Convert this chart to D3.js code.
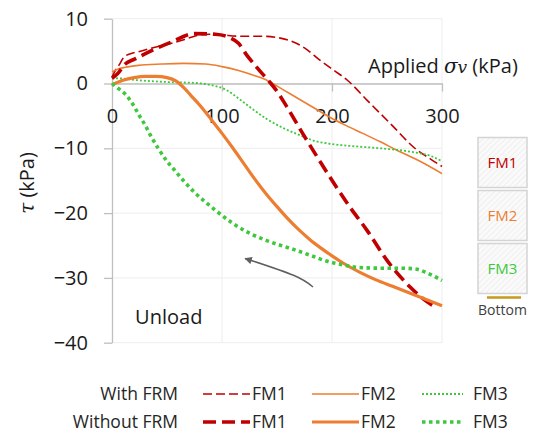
<!DOCTYPE html>
<html>
<head>
<meta charset="utf-8">
<script src="https://cdn.jsdelivr.net/npm/d3@7"></script>
<style>
  body { margin: 0; background: #fff; }
  svg { display: block; font-family: 'Open Sans', sans-serif; }
</style>
</head>
<body>
<div id="chart"></div>
<script>
// tau (kPa) vs applied sigma_v (kPa)
const withFM1 = [[0, 1.0], [3, 2.0], [7, 3.0], [11, 4.1], [19, 4.7], [24, 4.9], [39, 5.6], [56, 6.3], [66, 6.8], [75, 7.3], [88, 7.6], [100, 7.5], [115, 7.3], [135, 7.3], [150, 7.1], [162, 6.6], [175, 5.5], [189, 3.6], [202, 2.0], [214, 0.5], [232, -2.6], [256, -6.7], [274, -9.8], [290, -11.7], [300, -12.8]]
const withoutFM1 = [[0, 0.8], [5, 1.5], [12, 3.0], [21, 3.8], [35, 5.0], [54, 6.4], [75, 7.7], [94, 7.6], [108, 7.0], [115, 6.2], [122, 4.5], [132, 2.4], [142, 0.5], [150, -1.2], [159, -3.6], [174, -7.9], [189, -12.0], [201, -15.2], [216, -19.0], [232, -22.7], [250, -27.3], [271, -31.4], [285, -33.5], [295, -34.6]]
const withFM2 = [[0, 1.8], [5, 2.2], [12, 2.5], [24, 2.8], [45, 3.0], [65, 3.1], [85, 3.0], [100, 2.6], [115, 2.0], [128, 1.3], [142, 0.4], [155, -0.9], [168, -2.2], [183, -3.7], [198, -5.2], [213, -6.5], [228, -7.7], [244, -9.0], [259, -10.3], [280, -12.0], [300, -13.9]]
const withoutFM2 = [[0, -0.2], [10, 0.5], [20, 0.9], [30, 1.1], [40, 1.1], [50, 0.9], [58, 0.4], [65, -0.6], [72, -1.9], [80, -3.4], [90, -5.5], [100, -7.7], [110, -10.0], [120, -12.4], [130, -14.8], [140, -17.0], [150, -19.0], [160, -20.9], [170, -22.6], [180, -24.1], [190, -25.4], [200, -26.6], [210, -27.7], [225, -29.1], [240, -30.3], [255, -31.3], [270, -32.3], [285, -33.3], [300, -34.3]]
const withFM3 = [[0, 0.8], [5, 0.8], [24, 0.5], [54, 0.2], [74, 0.1], [89, -0.2], [104, -1.0], [115, -2.3], [125, -3.6], [141, -5.5], [156, -6.9], [171, -8.0], [183, -8.8], [198, -9.3], [214, -9.6], [244, -10.0], [274, -10.6], [290, -11.2], [300, -12.0]]
const withoutFM3 = [[0, 0], [6, -0.8], [13, -1.8], [20, -3.5], [25, -5.0], [30, -6.4], [35, -8.0], [42, -10.0], [50, -12.0], [56, -13.2], [65, -15.0], [75, -16.8], [85, -18.3], [95, -19.7], [110, -21.6], [125, -23.1], [140, -24.2], [150, -24.8], [165, -25.6], [180, -26.5], [195, -27.4], [210, -28.0], [225, -28.4], [245, -28.5], [262, -28.5], [275, -28.6], [286, -29.2], [300, -30.4]]

const xTicks = [0, 100, 200, 300]
const yTicks = [-40, -30, -20, -10, 0, 10]
const fmNames = ['FM1', 'FM2', 'FM3']
const rowNames = ['With FRM', 'Without FRM']
// unloading arrow, in data units (tail -> tip)
const arrowPts = [[182.7, -31.4], [165, -29.6], [121, -27.0]]

const colors = { FM1: '#c00000', FM2: '#ed7d31', FM3: '#3dc83d' }

const series = [
  { data: withFM1, fm: 'FM1', row: 0, width: 1.6, dash: '9,4' },
  { data: withFM2, fm: 'FM2', row: 0, width: 1.6, dash: null },
  { data: withFM3, fm: 'FM3', row: 0, width: 1.8, dash: '2,2' },
  { data: withoutFM1, fm: 'FM1', row: 1, width: 3.6, dash: '13,6' },
  { data: withoutFM2, fm: 'FM2', row: 1, width: 3.2, dash: null },
  { data: withoutFM3, fm: 'FM3', row: 1, width: 3.6, dash: '3.5,3.5' }
]

const W = 539
const H = 434

const svg = d3.select('#chart').append('svg')
  .attr('width', W)
  .attr('height', H)

svg.append('rect').attr('width', W).attr('height', H).attr('fill', '#fff')

const x = d3.scaleLinear().domain([0, 300]).range([112, 442])
const y = d3.scaleLinear().domain([-40, 10]).range([342.7, 18.7])

// gridlines
svg.append('g')
  .selectAll('line')
  .data(yTicks)
  .join('line')
  .attr('x1', x(0)).attr('x2', x(300))
  .attr('y1', d => y(d)).attr('y2', d => y(d))
  .attr('stroke', '#ededed')
svg.append('g')
  .selectAll('line')
  .data(xTicks.filter(d => d > 0))
  .join('line')
  .attr('x1', d => x(d)).attr('x2', d => x(d))
  .attr('y1', y(10)).attr('y2', y(-40))
  .attr('stroke', '#ededed')

// axes
const yAxis = svg.append('g')
  .attr('transform', `translate(${x(0)},0)`)
  .call(d3.axisLeft(y).tickValues(yTicks).tickSize(8).tickSizeOuter(0).tickPadding(16))
const xAxis = svg.append('g')
  .attr('transform', `translate(0,${y(0)})`)
  .call(d3.axisBottom(x).tickValues(xTicks).tickSize(8).tickSizeOuter(0).tickPadding(17))

for (const ax of [yAxis, xAxis]) {
  ax.select('.domain').attr('stroke', '#bfbfbf').attr('stroke-width', 1.3)
  ax.selectAll('.tick line').attr('stroke', '#bfbfbf').attr('stroke-width', 1.3)
  ax.selectAll('.tick text').attr('fill', '#1a1a1a').style('font-size', '20px').style('font-family', "'Open Sans', sans-serif")
}
xAxis.selectAll('.tick').filter(d => d === 0).select('line').remove()

// axis titles
svg.append('text')
  .attr('transform', `translate(34,183) rotate(-90)`)
  .attr('text-anchor', 'middle')
  .attr('fill', '#1a1a1a')
  .style('font-size', '20px')
  .html('<tspan font-family="DejaVu Serif" font-style="italic">τ</tspan> (kPa)')

svg.append('text')
  .attr('x', 368).attr('y', 73)
  .attr('fill', '#1a1a1a')
  .style('font-size', '20px')
  .html('Applied <tspan font-family="DejaVu Serif" font-style="italic">σ</tspan><tspan font-family="DejaVu Serif" font-style="italic" font-size="17px">v</tspan> (kPa)')

// curves
const line = d3.line()
  .x(d => x(d[0]))
  .y(d => y(d[1]))
  .curve(d3.curveMonotoneX)

svg.append('g')
  .selectAll('path')
  .data(series)
  .join('path')
  .attr('d', d => line(d.data))
  .attr('fill', 'none')
  .attr('stroke', d => colors[d.fm])
  .attr('stroke-width', d => d.width)
  .attr('stroke-dasharray', d => d.dash)

// unload arrow
svg.append('defs').append('marker')
  .attr('id', 'head')
  .attr('viewBox', '0 0 10 10')
  .attr('refX', 9).attr('refY', 5)
  .attr('markerWidth', 5).attr('markerHeight', 5)
  .attr('orient', 'auto')
  .append('path')
  .attr('d', 'M0,0 L10,5 L0,10 z')
  .attr('fill', '#606060')

svg.append('path')
  .attr('d', d3.line().x(d => x(d[0])).y(d => y(d[1])).curve(d3.curveNatural)(arrowPts))
  .attr('fill', 'none')
  .attr('stroke', '#606060')
  .attr('stroke-width', 1.5)
  .attr('marker-end', 'url(#head)')

svg.append('text')
  .attr('x', x(21)).attr('y', 324)
  .attr('fill', '#1a1a1a')
  .style('font-size', '20px')
  .text('Unload')

// side boxes (FM1..FM3) + bottom marker
const pat = svg.select('defs').append('pattern')
  .attr('id', 'hatch')
  .attr('patternUnits', 'userSpaceOnUse')
  .attr('width', 4).attr('height', 4)
  .attr('patternTransform', 'rotate(45)')
pat.append('rect').attr('width', 4).attr('height', 4).attr('fill', '#fafafa')
pat.append('line').attr('x1', 0).attr('y1', 0).attr('x2', 0).attr('y2', 4)
  .attr('stroke', '#ececec').attr('stroke-width', 1.5)

const boxes = svg.append('g')
  .selectAll('g')
  .data(fmNames)
  .join('g')
  .attr('transform', (d, i) => `translate(478,${137.5 + i * 53})`)
boxes.append('rect')
  .attr('width', 49).attr('height', 50)
  .attr('fill', 'url(#hatch)')
  .attr('stroke', '#d4d4d4')
  .attr('stroke-width', 1.5)
boxes.append('text')
  .attr('x', 24.5).attr('y', 30)
  .attr('text-anchor', 'middle')
  .attr('fill', d => colors[d])
  .style('font-size', '15px')
  .text(d => d)

svg.append('line')
  .attr('x1', 487).attr('x2', 521)
  .attr('y1', 297.5).attr('y2', 297.5)
  .attr('stroke', '#c59a1a')
  .attr('stroke-width', 2.5)
svg.append('text')
  .attr('x', 502.5).attr('y', 315)
  .attr('text-anchor', 'middle')
  .attr('fill', '#404040')
  .style('font-size', '14px')
  .text('Bottom')

// legend
const legend = svg.append('g')
rowNames.forEach((name, r) => {
  const ly = 394 + r * 28
  legend.append('text')
    .attr('x', 178).attr('y', ly + 5.5)
    .attr('text-anchor', 'end')
    .attr('fill', '#262626')
    .style('font-size', '17.5px')
    .text(name)
})
const items = legend.selectAll('g.item')
  .data(series)
  .join('g')
  .attr('class', 'item')
  .attr('transform', d => `translate(${[203, 312, 422][fmNames.indexOf(d.fm)]},${394 + d.row * 28})`)
items.append('line')
  .attr('x1', 0).attr('x2', d => d.fm === 'FM3' ? 41 : 47)
  .attr('stroke', d => colors[d.fm])
  .attr('stroke-width', d => d.width)
  .attr('stroke-dasharray', d => d.dash)
items.append('text')
  .attr('x', d => d.fm === 'FM3' ? 51 : 49).attr('y', 5.5)
  .attr('fill', '#262626')
  .style('font-size', '17.5px')
  .text(d => d.fm)
</script>
</body>
</html>
